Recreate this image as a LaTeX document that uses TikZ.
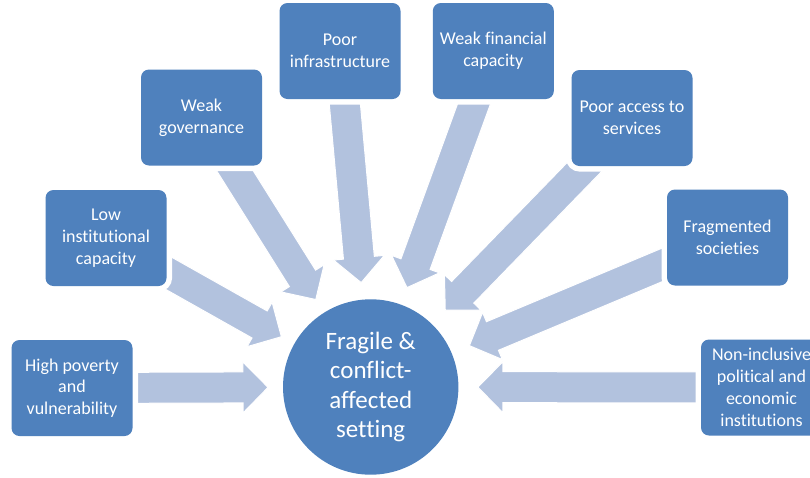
\documentclass[tikz,border=0pt]{standalone}
\usepackage{fontspec}
\setmainfont{Carlito}[Ligatures={NoCommon}]
\usetikzlibrary{calc,backgrounds}
\definecolor{boxblue}{HTML}{4F81BD}
\definecolor{arrblue}{HTML}{B2C2DE}
\newcommand\convarrow[3]{%
  \path[arr] let \p1=(#1.center), \p2=($(#2.center)!#3!(#1.center)$),
    \n1={atan2(\y2-\y1,\x2-\x1)}, \n2={veclen(\x2-\x1,\y2-\y1)} in
    [shift={(\p1)},rotate=\n1]
    (0,-15.5) -- ({\n2-25},-15.5) -- ({\n2-25},-25.5) -- ({\n2},0)
    -- ({\n2-25},25.5) -- ({\n2-25},15.5) -- (0,15.5) -- cycle;}
\begin{document}
\begin{tikzpicture}[x=1pt,y=-1pt,
  box/.style={rectangle, rounded corners=8pt, fill=boxblue,
    minimum width=121pt, minimum height=96pt, inner sep=2pt,
    align=center, text=white, font=\fontsize{18}{21.8}\selectfont,
    preaction={draw=white, line width=11pt}},
  hub/.style={circle, fill=boxblue, minimum size=175.4pt, inner sep=0pt,
    align=center, text=white, font=\fontsize{25}{29.3}\selectfont},
  arr/.style={fill=arrblue, draw=white, line width=1pt}]
\useasboundingbox (0,0) rectangle (810,477);
\clip (0,0) rectangle (810,477);

\node[box] (hp)    at (72,388)    {High poverty\\and\\vulnerability};
\node[box] (li)    at (106,238) {Low\\institutional\\capacity};
\node[box] (gov)   at (201.5,117.5) {Weak\\governance};
\node[box] (inf)   at (340,51)    {Poor\\infrastructure};
\node[box] (fin)   at (493.3,51)  {Weak financial\\capacity};
\node[box] (acc)   at (632,118)   {Poor access to\\services};
\node[box] (frag)  at (727.5,237.5) {Fragmented\\societies};
\node[box] (ni)    at (761.5,387.5) {Non-inclusive\\political and\\economic\\institutions};

\node[hub] (c) at (370.7,387) {Fragile \&\\conflict-\\affected\\setting};

\begin{scope}[on background layer]
  \convarrow{hp}{c}{102.7pt}
  \convarrow{li}{c}{102.5pt}
  \convarrow{gov}{c}{103.3pt}
  \convarrow{inf}{c}{104.8pt}
  \convarrow{fin}{c}{105.8pt}
  \convarrow{acc}{c}{107pt}
  \convarrow{frag}{c}{107pt}
  \convarrow{ni}{c}{107.2pt}
\end{scope}
\end{tikzpicture}
\end{document}
